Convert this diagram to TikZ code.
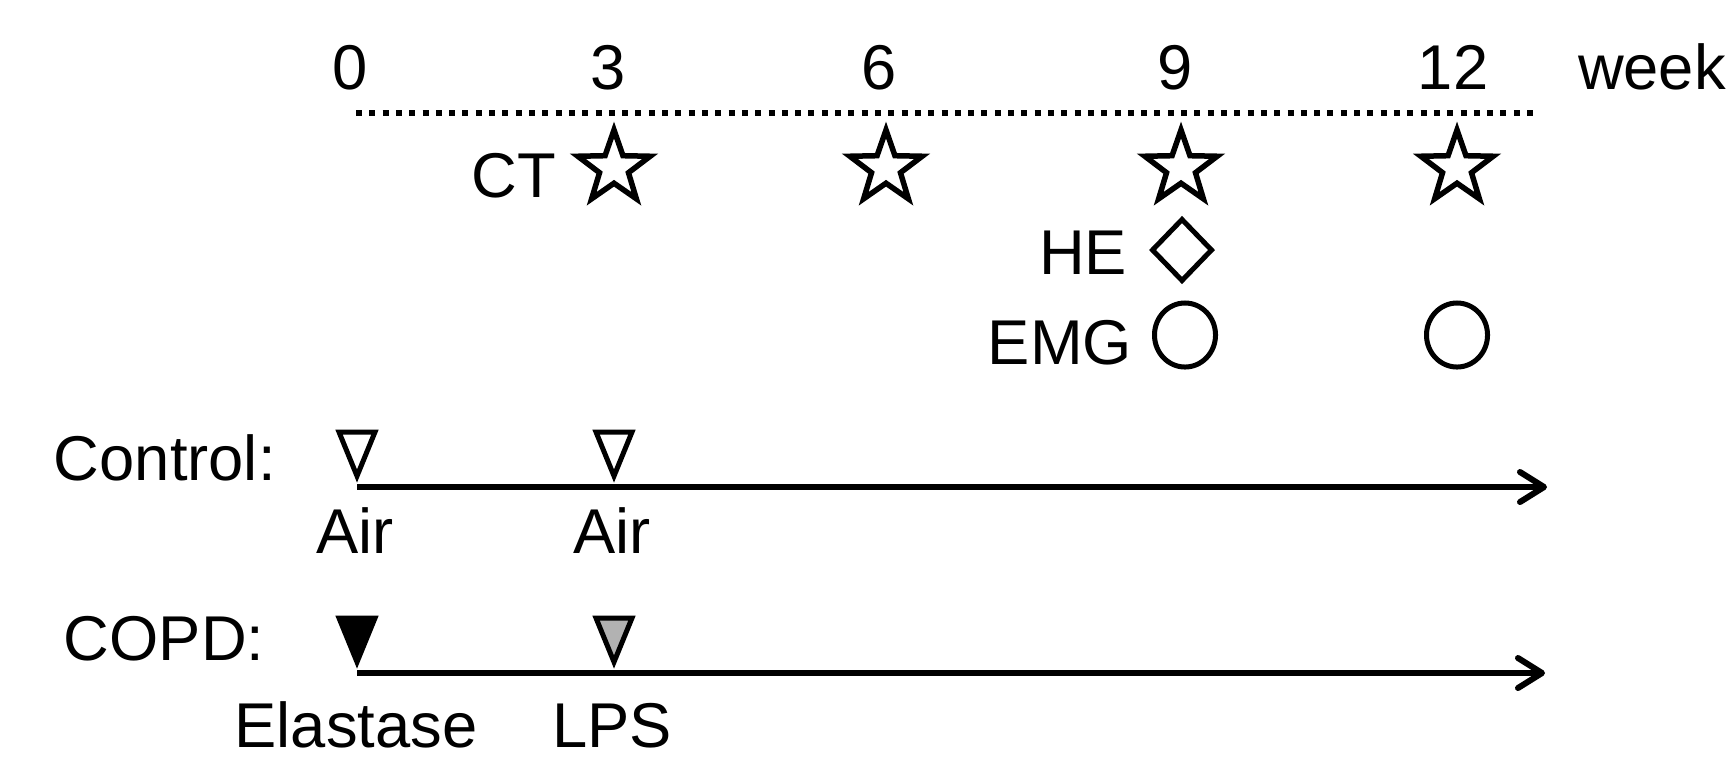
\documentclass[tikz,border=0pt]{standalone}
\usepackage{fontspec}
\setmainfont{Liberation Sans}
\usetikzlibrary{arrows.meta,shapes.geometric}

\begin{document}
\begin{tikzpicture}[x=0.01cm, y=-0.01cm,
  lbl/.style={font=\fontsize{18}{21}\selectfont, inner sep=0pt, outer sep=0pt},
  starmark/.style={star, star points=5, star point ratio=2.5,
    minimum size=0.76cm, inner sep=0pt, draw, line width=0.055cm, line join=miter},
  diamark/.style={diamond, minimum width=0.61cm, minimum height=0.63cm,
    inner sep=0pt, draw, line width=0.05cm},
  circmark/.style={ellipse, minimum width=0.61cm, minimum height=0.64cm,
    inner sep=0pt, draw, line width=0.05cm},
  trimark/.style={draw, line width=0.05cm, line join=miter},
  dotline/.style={line width=0.06cm, dash pattern=on 0.06cm off 0.073cm},
  timeline/.style={line width=0.06cm,
    -{Straight Barb[length=0.24cm, width=0.3cm, line cap=round, line join=round]}}
]
\useasboundingbox (0,0) rectangle (1731,778);

% week scale
\node[lbl, anchor=base] (n0)  at (350,89)  {0};
\node[lbl, anchor=base] (n3)  at (608,89)  {3};
\node[lbl, anchor=base] (n6)  at (879,89)  {6};
\node[lbl, anchor=base] (n9)  at (1175,89) {9};
\node[lbl, anchor=base] (n12) at (1453,89) {12};
\node[lbl, anchor=base west] (wk) at (1578,89) {week};

\coordinate (d0) at (356,113);
\coordinate (d1) at (1538,113);
\draw[dotline] (d0) -- (d1);

% CT scans
\node[lbl, anchor=base east] (ct) at (556,197) {CT};
\node[starmark] (s3)  at (614,168)  {};
\node[starmark] (s6)  at (886,168)  {};
\node[starmark] (s9)  at (1181,168) {};
\node[starmark] (s12) at (1457,168) {};

% histology
\node[lbl, anchor=base east] (he) at (1127,274) {HE};
\node[diamark] (h9) at (1182,250) {};

% electromyography
\node[lbl, anchor=base east] (emg) at (1132,364) {EMG};
\node[circmark] (e9)  at (1185,335) {};
\node[circmark] (e12) at (1457,335) {};

% control group
\node[lbl, anchor=base west] (ctl) at (54,480) {Control:};
\coordinate (c0) at (357,487);
\coordinate (c3) at (614,487);
\coordinate (cend) at (1547,487);
\draw[timeline] (c0) -- (cend);
\draw[trimark, fill=white] (c0) ++(0,-11) -- ++(-18,-44) -- ++(36,0) -- cycle;
\draw[trimark, fill=white] (c3) ++(0,-11) -- ++(-18,-44) -- ++(36,0) -- cycle;
\node[lbl, anchor=base] (air0) at (355,553) {Air};
\node[lbl, anchor=base] (air3) at (612,553) {Air};

% COPD group
\node[lbl, anchor=base west] (copd) at (64,660) {COPD:};
\coordinate (p0) at (357,673);
\coordinate (p3) at (614,673);
\coordinate (pend) at (1545,673);
\draw[timeline] (p0) -- (pend);
\draw[trimark, fill=black] (p0) ++(0,-11) -- ++(-18,-44) -- ++(36,0) -- cycle;
\draw[trimark, fill=black!30] (p3) ++(0,-11) -- ++(-18,-44) -- ++(36,0) -- cycle;
\node[lbl, anchor=base] (ela) at (356,747) {Elastase};
\node[lbl, anchor=base] (lps) at (612,747) {LPS};
\end{tikzpicture}
\end{document}
